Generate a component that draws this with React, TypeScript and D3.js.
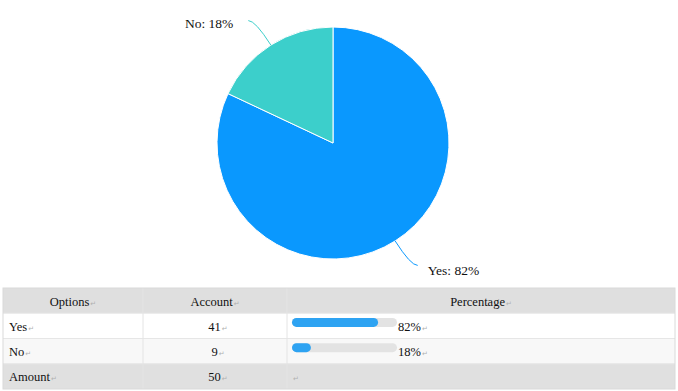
import { arc, pie, scaleBand, scaleLinear } from "d3";

const options = ["Yes", "No"];
const counts = [41, 9];
const colors = ["#0a98fe", "#3ccfcb"];
const barColor = "#2ea3f2";
const headers = ["Options", "Account", "Percentage"];
const totalLabel = "Amount";

const font = "Liberation Serif";

// little Word paragraph mark after each cell text
const Mark = () => (
    <tspan fontSize={7} fill="#b0b0b0" dx={1} style={{ fontFamily: "DejaVu Sans" }}>↵</tspan>
);

export default function App() {
    const total = counts.reduce((a, b) => a + b, 0);
    const pct = counts.map((c) => Math.round((c / total) * 100));

    const cx = 333;
    const cy = 143;
    const r = 116;

    const slices = pie<number>().sort(null).value((d) => d)(counts);
    const arcGen = arc<any>().innerRadius(0).outerRadius(r);

    const tableX = 3;
    const tableW = 672;
    const colX = [3, 143, 287, 675];
    const rowNames = ["header", ...options, "total"];
    const rowY = scaleBand().domain(rowNames).range([288, 389]);
    const rowH = rowY.bandwidth();
    const rowFill: Record<string, string> = {
        header: "#dfdfdf",
        Yes: "#ffffff",
        No: "#f8f8f8",
        total: "#e0e0e0",
    };
    const barX = scaleLinear().domain([0, 100]).range([292, 397]);
    const base = (rn: string) => (rowY(rn) || 0) + rowH / 2 + 5;
    const txt = { fontSize: 12.5, fill: "#111", style: { fontFamily: font } };

    return (
        <div style={{ position: "absolute", left: 0, top: 0 }}>
            <svg width={678} height={391} viewBox="0 0 678 391" style={{ display: "block", background: "#fff" }}>
                <g transform={`translate(${cx},${cy})`}>
                    {slices.map((s, i) => (
                        <path key={i} d={arcGen(s) || ""} fill={colors[i]} stroke="#fff" strokeWidth={1} />
                    ))}
                    {slices.map((s, i) => {
                        const mid = (s.startAngle + s.endAngle) / 2;
                        const sx = Math.sin(mid) * r;
                        const sy = -Math.cos(mid) * r;
                        const kx = Math.sin(mid) * (r + 29);
                        const ky = -Math.cos(mid) * (r + 29);
                        const left = sx < 0;
                        const ex = kx + (left ? -7 : 7);
                        const tx = ex + (left ? -15 : 10);
                        return (
                            <g key={"l" + i}>
                                <path d={`M${sx},${sy}Q${kx},${ky} ${ex},${ky}`} fill="none" stroke={colors[i]} strokeWidth={1} />
                                <text x={tx} y={ky + (left ? 7 : 10)} textAnchor={left ? "end" : "start"} fontSize={13.5} fill="#111" style={{ fontFamily: font }}>
                                    {options[i]}: {pct[i]}%
                                </text>
                            </g>
                        );
                    })}
                </g>

                <g>
                    {rowNames.map((rn) => (
                        <rect key={rn} x={tableX} y={rowY(rn)} width={tableW} height={rowH} fill={rowFill[rn]} />
                    ))}
                    {rowNames.slice(1).map((rn) => (
                        <line key={"h" + rn} x1={tableX} x2={tableX + tableW} y1={rowY(rn)} y2={rowY(rn)} stroke="#e6e6e6" />
                    ))}
                    {colX.slice(1, 3).map((x) => (
                        <line key={"v" + x} x1={x} x2={x} y1={288} y2={389} stroke="#e4e4e4" />
                    ))}
                    <rect x={tableX} y={288} width={tableW} height={101} fill="none" stroke="#dadada" />

                    {headers.map((h, i) => (
                        <text key={h} x={(colX[i] + colX[i + 1]) / 2} y={base("header")} textAnchor="middle" {...txt}>
                            {h}<Mark />
                        </text>
                    ))}

                    {options.map((o, i) => {
                        const y = base(o);
                        const mx = (colX[1] + colX[2]) / 2;
                        return (
                            <g key={o}>
                                <text x={9} y={y} {...txt}>{o}<Mark /></text>
                                <text x={mx + 3} y={y} textAnchor="middle" {...txt}>{counts[i]}<Mark /></text>
                                <rect x={barX(0)} y={y - 13} width={barX(100) - barX(0)} height={9} rx={4.5} fill="#e3e3e3" />
                                <rect x={barX(0)} y={y - 13} width={barX(pct[i]) - barX(0)} height={9} rx={4.5} fill={barColor} />
                                <text x={barX(100) + 1} y={y} {...txt}>{pct[i]}%<Mark /></text>
                            </g>
                        );
                    })}

                    <g>
                        <text x={9} y={base("total")} {...txt}>{totalLabel}<Mark /></text>
                        <text x={(colX[1] + colX[2]) / 2 + 3} y={base("total")} textAnchor="middle" {...txt}>{total}<Mark /></text>
                        <text x={292} y={base("total")} {...txt}><Mark /></text>
                    </g>
                </g>
            </svg>
        </div>
    );
}
